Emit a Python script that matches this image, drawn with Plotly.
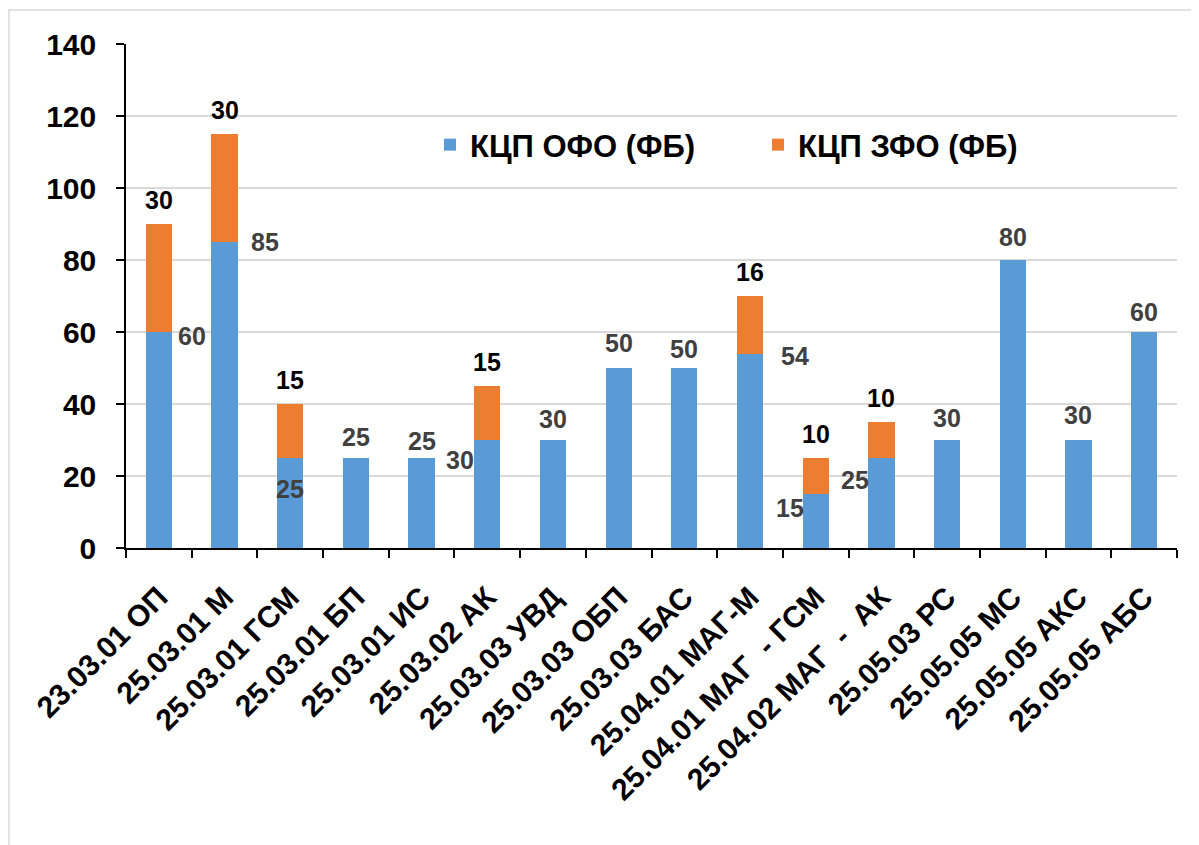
import plotly.graph_objects as go

categories = ["23.03.01 ОП", "25.03.01 М", "25.03.01 ГСМ", "25.03.01 БП", "25.03.01 ИС",
              "25.03.02 АК", "25.03.03 УВД", "25.03.03 ОБП", "25.03.03 БАС", "25.04.01 МАГ-М",
              "25.04.01 МАГ  - ГСМ", "25.04.02 МАГ  -  АК", "25.05.03 РС", "25.05.05 МС",
              "25.05.05 АКС", "25.05.05 АБС"]
ofo_values = [60, 85, 25, 25, 25, 30, 30, 50, 50, 54, 15, 25, 30, 80, 30, 60]
zfo_values = [30, 30, 15, None, None, 15, None, None, None, 16, 10, 10, None, None, None, None]
series_names = ["КЦП ОФО (ФБ)", "КЦП ЗФО (ФБ)"]
y_ticks = [0, 20, 40, 60, 80, 100, 120, 140]

# label offsets in pixels (dx right, dy down) relative to bar-segment top
ofo_label_offsets = [(33, 4), (40, 0), (0, 31), (0, -21), (0, -17), (-27, 20), (0, -21), (0, -25),
                     (0, -19), (45, 2), (-26, 14), (-26, 22), (0, -22), (0, -23), (0, -25), (0, -20)]
zfo_label_dy = -24

BLUE = "#5B9BD5"
ORANGE = "#ED7D31"
FONT = "Liberation Sans, Arial, sans-serif"

# page is offset by the browser's default 8px body margin
OFF = 8
W, H = 1199 - OFF, 845 - OFF

fig = go.Figure()
fig.add_trace(go.Bar(x=categories, y=ofo_values, name=series_names[0],
                     marker=dict(color=BLUE, line=dict(width=0))))
fig.add_trace(go.Bar(x=categories, y=zfo_values, name=series_names[1],
                     marker=dict(color=ORANGE, line=dict(width=0))))

annotations = []
for i, c in enumerate(categories):
    v = ofo_values[i]
    dx, dy = ofo_label_offsets[i]
    annotations.append(dict(x=c, y=v, text=str(v), showarrow=False, xanchor="center",
                            yanchor="middle", xshift=dx, yshift=-dy,
                            font=dict(family=FONT, size=25, color="#404040", weight="bold")))
    z = zfo_values[i]
    if z:
        annotations.append(dict(x=c, y=v + z, text=str(z), showarrow=False, xanchor="center",
                                yanchor="middle", yshift=-zfo_label_dy,
                                font=dict(family=FONT, size=25, color="#000000", weight="bold")))

# plot area in page pixels: x 126..1177, y 548..44
L, R, T, B = 126 - OFF, 1177 - OFF, 44 - OFF, 548 - OFF
def px(xp):
    return (xp - OFF - L) / (R - L)
def py(yp):
    return (B - (yp - OFF)) / (B - T)

fig.update_layout(
    width=W, height=H,
    barmode="stack", bargap=0.6,
    plot_bgcolor="white", paper_bgcolor="white",
    margin=dict(l=L, r=W - R, t=T, b=H - B, autoexpand=False),
    font=dict(family=FONT, color="black"),
    showlegend=True,
    legend=dict(orientation="h", x=px(430), y=py(145), xanchor="left", yanchor="middle",
                font=dict(family=FONT, size=31, color="black", weight="bold"),
                bgcolor="rgba(0,0,0,0)", entrywidth=283, traceorder="normal"),
    annotations=annotations,
    shapes=[dict(type="rect", xref="paper", yref="paper",
                 x0=px(9), x1=px(1215), y0=py(880), y1=py(10),
                 line=dict(color="#d9d9d9", width=1.5), layer="below")],
)
fig.update_xaxes(type="category", tickson="boundaries", ticks="outside", ticklen=8,
                 tickcolor="black", tickwidth=1.5, showline=True, linecolor="black", linewidth=1.5,
                 tickangle=-45, showgrid=False, ticklabelstandoff=18,
                 tickmode="array", tickvals=categories,
                 ticktext=[c.replace(" ", "\u00a0") for c in categories],
                 tickfont=dict(family=FONT, size=30, color="black", weight="bold"))
fig.update_yaxes(range=[0, 140], tickvals=y_ticks, ticks="outside", ticklen=8,
                 tickcolor="black", tickwidth=1.5, showline=True, linecolor="black", linewidth=1.5,
                 showgrid=True, gridcolor="#d9d9d9", gridwidth=1.5, zeroline=False,
                 ticklabelstandoff=14,
                 tickfont=dict(family=FONT, size=30, color="black", weight="bold"))

fig.write_html("out.html")
